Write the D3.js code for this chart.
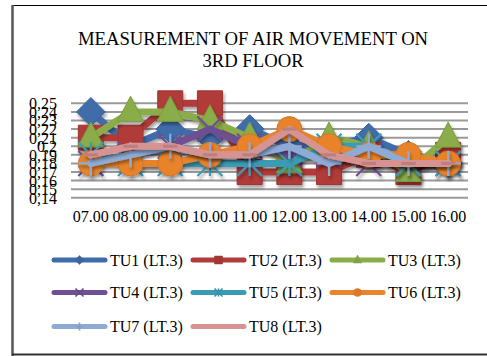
<!DOCTYPE html>
<html>
<head>
<meta charset="utf-8">
<script src="https://cdn.jsdelivr.net/npm/d3@7"></script>
<style>
  html, body { margin: 0; padding: 0; background: #fff; }
  svg { display: block; }
  text { font-family: "Liberation Serif", "Times New Roman", serif; fill: #000; }
</style>
</head>
<body>
<svg id="chart" width="487" height="356"></svg>
<script>
const categories = ["07.00","08.00","09.00","10.00","11.00","12.00","13.00","14.00","15.00","16.00"];
const seriesNames = ["TU1 (LT.3)","TU2 (LT.3)","TU3 (LT.3)","TU4 (LT.3)","TU5 (LT.3)","TU6 (LT.3)","TU7 (LT.3)","TU8 (LT.3)"];
const tu1 = [0.24, 0.20, 0.22, 0.21, 0.22, 0.20, 0.20, 0.21, 0.19, 0.18];
const tu2 = [0.21, 0.21, 0.25, 0.25, 0.17, 0.17, 0.17, 0.19, 0.17, 0.19];
const tu3 = [0.21, 0.24, 0.24, 0.23, 0.21, 0.18, 0.21, 0.20, 0.17, 0.21];
const tu4 = [0.18, 0.19, 0.20, 0.22, 0.20, 0.19, 0.19, 0.18, 0.18, 0.18];
const tu5 = [0.19, 0.18, 0.18, 0.18, 0.18, 0.18, 0.20, 0.20, 0.18, 0.18];
const tu6 = [0.18, 0.18, 0.18, 0.19, 0.20, 0.22, 0.20, 0.19, 0.19, 0.18];
const tu7 = [0.18, 0.19, 0.20, 0.19, 0.19, 0.20, 0.18, 0.20, 0.18, 0.18];
const tu8 = [0.19, 0.20, 0.20, 0.19, 0.19, 0.22, 0.19, 0.18, 0.18, 0.18];
const yTickValues = [0.14,0.15,0.16,0.17,0.18,0.19,0.20,0.21,0.22,0.23,0.24,0.25];
const yTickLabels = ["0,14","0,15","0,16","0,17","0,18","0,19","0,2","0,21","0,22","0,23","0,24","0,25"];
const titleLines = ["MEASUREMENT OF AIR MOVEMENT ON", "3RD FLOOR"];

const allValues = [tu1, tu2, tu3, tu4, tu5, tu6, tu7, tu8];
const colors = ["#3F6DAA","#B03B38","#8AAD4A","#6E4F92","#3A9BB5","#E9832C","#8EABD6","#D69391"];
const markers = ["diamond","square","triangle","x","star","circle","plus","dash"];

const svg = d3.select("#chart");
const defs = svg.append("defs");
const f = defs.append("filter").attr("id","sh").attr("x","-20%").attr("y","-20%").attr("width","140%").attr("height","160%");
f.append("feDropShadow").attr("dx",1.5).attr("dy",3).attr("stdDeviation",1.8).attr("flood-color","#000").attr("flood-opacity",0.35);

// frame
svg.append("line").attr("x1",12).attr("x2",487).attr("y1",5.5).attr("y2",5.5).attr("stroke","#000").attr("stroke-width",1.2);
svg.append("line").attr("x1",12.5).attr("x2",12.5).attr("y1",5).attr("y2",356).attr("stroke","#555").attr("stroke-width",2.5);
svg.append("line").attr("x1",12).attr("x2",487).attr("y1",354.5).attr("y2",354.5).attr("stroke","#333").attr("stroke-width",2);

// title
svg.append("text").attr("x",253).attr("y",45).attr("text-anchor","middle").attr("font-size",18.7).text(titleLines[0]);
svg.append("text").attr("x",253).attr("y",67).attr("text-anchor","middle").attr("font-size",18.7).text(titleLines[1]);

const x = d3.scaleBand().domain(categories).range([71, 468]).padding(0);
const y = d3.scaleLinear().domain([0.14, 0.25]).range([197.8, 103.3]);
const cx = c => x(c) + x.bandwidth()/2;

// gridlines + y labels
const yAxis = d3.axisLeft(y).tickValues(yTickValues)
  .tickFormat((d,i) => yTickLabels[i]).tickSize(0).tickPadding(0);
const ya = svg.append("g").attr("transform","translate(57,0)").call(yAxis);
ya.select(".domain").remove();
ya.selectAll("text").attr("font-size",16).attr("font-family","Liberation Serif, serif").attr("fill","#000").attr("dy","0.34em");

svg.append("g").selectAll("line").data(yTickValues).join("line")
  .attr("x1",71).attr("x2",468).attr("y1",d=>y(d)).attr("y2",d=>y(d))
  .attr("stroke","#9a9a9a").attr("stroke-width",2);

// x labels
const xAxis = d3.axisBottom(x).tickSize(0).tickPadding(0);
const xa = svg.append("g").attr("transform","translate(0,210)").call(xAxis);
xa.select(".domain").remove();
xa.selectAll("text").attr("font-size",16).attr("font-family","Liberation Serif, serif").attr("fill","#000").attr("dy","0.75em");

function markerPath(type, s) {
  const h = s/2;
  switch(type) {
    case "diamond": return `M0,${-h*1.15}L${h*1.15},0L0,${h*1.15}L${-h*1.15},0Z`;
    case "square": return `M${-h},${-h}H${h}V${h}H${-h}Z`;
    case "triangle": return `M0,${-h*1.25}L${h*1.05},${h*0.75}L${-h*1.05},${h*0.75}Z`;
    case "circle": return `M${-h},0A${h},${h} 0 1,0 ${h},0A${h},${h} 0 1,0 ${-h},0Z`;
    case "x": return `M${-h},${-h}L${h},${h}M${h},${-h}L${-h},${h}`;
    case "star": return `M${-h},${-h}L${h},${h}M${h},${-h}L${-h},${h}M0,${-h}V${h}`;
    case "plus": return `M0,${-h}V${h}M${-h},0H${h}`;
    case "dash": return `M${-h*0.55},0H${h*0.55}`;
  }
}
const filled = t => ["diamond","square","triangle","circle"].includes(t);

const line = d3.line().x((d,i)=>cx(categories[i])).y(d=>y(d));

allValues.forEach((vals, si) => {
  const g = svg.append("g").attr("filter","url(#sh)");
  const col = colors[si];
  g.append("path").attr("d", line(vals)).attr("fill","none").attr("stroke",col)
    .attr("stroke-width",7).attr("stroke-linejoin","round").attr("stroke-linecap","round");
  const t = markers[si];
  const sz = t === "dash" ? 26 : 25;
  g.selectAll("path.m").data(vals).join("path").attr("class","m")
    .attr("transform",(d,i)=>`translate(${cx(categories[i])},${y(d)})`)
    .attr("d", markerPath(t, sz))
    .attr("fill", filled(t) ? col : "none")
    .attr("stroke", filled(t) ? d3.color(col).darker(0.3) : (t==="dash" ? d3.color(col).darker(0.4) : col))
    .attr("stroke-width", filled(t) ? 1 : (t==="dash" ? 3 : 2.2));
});

// legend
const legCols = [52, 191, 330];
const legRows = [260, 292.5, 326.5];
seriesNames.forEach((name, i) => {
  const lx = legCols[i % 3], ly = legRows[Math.floor(i / 3)];
  const g = svg.append("g");
  g.append("line").attr("x1",lx+2).attr("x2",lx+53).attr("y1",ly).attr("y2",ly)
    .attr("stroke",colors[i]).attr("stroke-width",5).attr("stroke-linecap","round");
  const t = markers[i];
  if (t !== "dash") {
    g.append("path").attr("transform",`translate(${lx+27.5},${ly})`)
      .attr("d", markerPath(t, 8))
      .attr("fill", filled(t) ? d3.color(colors[i]).darker(0.2) : "none")
      .attr("stroke", d3.color(colors[i]).darker(0.2)).attr("stroke-width", filled(t)?0.5:1.6);
  }
  g.append("text").attr("x",lx+58).attr("y",ly+5.5).attr("font-size",16).text(name);
});
</script>
</body>
</html>
